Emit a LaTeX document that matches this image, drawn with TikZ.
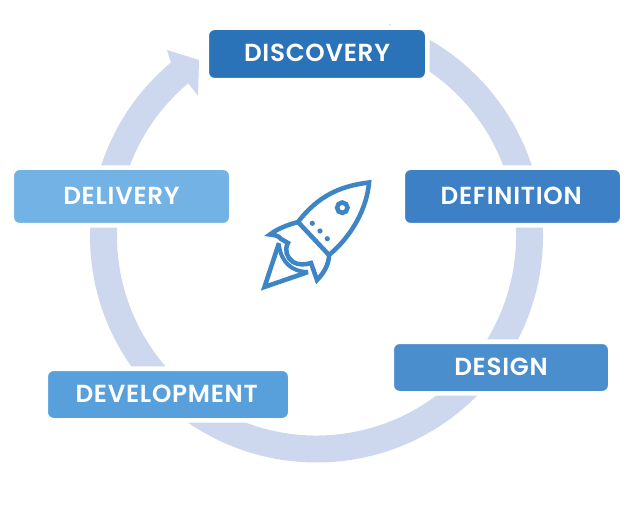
\documentclass[tikz,border=0pt]{standalone}
\usepackage{fontspec}
\setmainfont{Poppins}
\newfontfamily\stagefont[LetterSpace=3.0]{Poppins SemiBold}
\newcommand{\stagetext}[2][0pt]{\raisebox{1.2pt}{\hspace*{#1}#2}}
\definecolor{ringc}{HTML}{CDD8EE}
\definecolor{rocketc}{HTML}{3E85C6}
\definecolor{c1}{HTML}{2A73B9}
\definecolor{c2}{HTML}{3E80C5}
\definecolor{c3}{HTML}{4A8ECE}
\definecolor{c4}{HTML}{58A0DB}
\definecolor{c5}{HTML}{72B2E4}
\tikzset{
  stage/.style={rectangle,rounded corners=6pt,draw=white,line width=3.5pt,text=white,
    font=\fontsize{18.5}{20}\stagefont,inner sep=0pt,anchor=center},
  rocketline/.style={draw=rocketc,line width=3.4pt,line join=miter,fill=none},
}
\begin{document}
\begin{tikzpicture}[x=0.75pt,y=-0.75pt]
\useasboundingbox[fill=white] (0,0) rectangle (641,505);
% ring with arrow head
\fill[ringc] (316.5,236) ++(230:226.5) arc[start angle=230,end angle=-62,radius=226.5]
  -- ++(-62+180:27) arc[start angle=-62,end angle=230,radius=199.5]
  -- (198,96) -- (199,60) -- (167,50) -- cycle;
\fill[ringc] (389,24) -- (396,27) -- (390,27) -- cycle;
% stages
\node[stage,fill=c1,minimum width=162pt+3.5pt,minimum height=36pt+3.5pt] (discovery) at (317,54) {\stagetext{DISCOVERY}};
\node[stage,fill=c2,minimum width=161.25pt+3.5pt,minimum height=39.75pt+3.5pt] (definition) at (512.5,196.5) {\stagetext[-2pt]{DEFINITION}};
\node[stage,fill=c3,minimum width=160.5pt+3.5pt,minimum height=35.25pt+3.5pt] (design) at (501,367.5) {\stagetext{DESIGN}};
\node[stage,fill=c4,minimum width=180pt+3.5pt,minimum height=35.25pt+3.5pt] (development) at (168,394.5) {\stagetext[-2pt]{DEVELOPMENT}};
\node[stage,fill=c5,minimum width=161.25pt+3.5pt,minimum height=39.75pt+3.5pt] (delivery) at (121.5,196.5) {\stagetext{DELIVERY}};
% rocket
\draw[rocketline] (298,222) .. controls (318,196) and (340,186) .. (369,182.5)
  .. controls (367,208) and (352,236) .. (329,255);
\draw[rocketline] (298,222) -- (329,255);
\draw[rocketline,miter limit=3] (298,222) .. controls (287,225) and (277,229) .. (270,234.5)
  .. controls (275,235) and (279,236) .. (281,239) -- (288,243)
  .. controls (284,250) and (287,258) .. (293,262) .. controls (298,265) and (305,265) .. (311,263)
  -- (317,280) .. controls (324,273) and (329,264) .. (329,255);
\draw[rocketline,miter limit=3] (279,243) -- (264.5,287) -- (308,272);
\draw[rocketline,line width=3pt] (279,245) .. controls (281,262) and (292,272) .. (308,272);
\draw[draw=rocketc,line width=3.4pt] (342.3,207.7) circle[radius=5.2];
\fill[rocketc] (312.3,223.3) circle[radius=2.6] (320,231) circle[radius=2.6] (327.3,238.7) circle[radius=2.6];
\end{tikzpicture}
\end{document}
